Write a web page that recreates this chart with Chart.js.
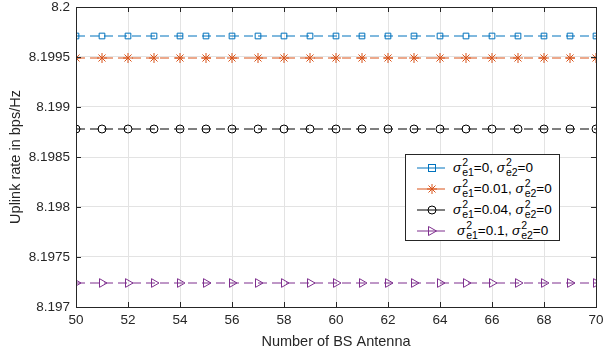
<!DOCTYPE html>
<html>
<head>
<meta charset="utf-8">
<script src="https://cdn.jsdelivr.net/npm/chart.js@4/dist/chart.umd.min.js"></script>
<style>
  html, body { margin: 0; padding: 0; background: #fff; }
  #wrap { position: relative; width: 603px; height: 352px; }
  #legend {
    position: absolute; left: 405px; top: 154px; width: 155px; height: 87px;
    border: 1px solid #262626; background: #fff; box-sizing: border-box;
    font-family: "Liberation Sans", Arial, sans-serif; font-size: 13.5px; color: #000;
    padding-top: 2px;
  }
  .row { height: 21px; display: flex; align-items: center; white-space: nowrap; }
  .row svg { margin-left: 11px; margin-right: 8px; flex: none; }
  .ss { display: inline-flex; flex-direction: column; vertical-align: middle;
        font-size: 10.5px; line-height: 10px; margin-left: 1px; position: relative; top: -1px; }
</style>
</head>
<body>
<div id="wrap">
  <canvas id="chart" width="603" height="352"></canvas>
  <div id="legend"></div>
</div>
<script>
// x axis: number of BS antennas
var antennas = [50, 51, 52, 53, 54, 55, 56, 57, 58, 59, 60, 61, 62, 63, 64, 65, 66, 67, 68, 69, 70];
// uplink rate (bps/Hz) for each channel estimation error case, flat across antennas
var rate_e0    = [8.19971, 8.19971, 8.19971, 8.19971, 8.19971, 8.19971, 8.19971, 8.19971, 8.19971, 8.19971, 8.19971, 8.19971, 8.19971, 8.19971, 8.19971, 8.19971, 8.19971, 8.19971, 8.19971, 8.19971, 8.19971];
var rate_e001  = [8.19949, 8.19949, 8.19949, 8.19949, 8.19949, 8.19949, 8.19949, 8.19949, 8.19949, 8.19949, 8.19949, 8.19949, 8.19949, 8.19949, 8.19949, 8.19949, 8.19949, 8.19949, 8.19949, 8.19949, 8.19949];
var rate_e004  = [8.19878, 8.19878, 8.19878, 8.19878, 8.19878, 8.19878, 8.19878, 8.19878, 8.19878, 8.19878, 8.19878, 8.19878, 8.19878, 8.19878, 8.19878, 8.19878, 8.19878, 8.19878, 8.19878, 8.19878, 8.19878];
var rate_e01   = [8.19724, 8.19724, 8.19724, 8.19724, 8.19724, 8.19724, 8.19724, 8.19724, 8.19724, 8.19724, 8.19724, 8.19724, 8.19724, 8.19724, 8.19724, 8.19724, 8.19724, 8.19724, 8.19724, 8.19724, 8.19724];
var xTicks = [50, 52, 54, 56, 58, 60, 62, 64, 66, 68, 70];
var yTicks = [8.197, 8.1975, 8.198, 8.1985, 8.199, 8.1995, 8.2];
var e1Labels = ['0', '0.01', '0.04', '0.1'];

var FONT = '"Liberation Sans", Arial, sans-serif';
var series = [
    { data: rate_e0,   color: '#0072BD', style: 'rect',     rot: 0,  radius: 4 },
    { data: rate_e001, color: '#D95319', style: 'star',     rot: 0,  radius: 5 },
    { data: rate_e004, color: '#000000', style: 'circle',   rot: 0,  radius: 4 },
    { data: rate_e01,  color: '#7E2F8E', style: 'triangle', rot: 90, radius: 5 }
];

// matlab style box with inward ticks
var boxPlugin = {
    id: 'box',
    afterDraw(chart) {
        var ctx = chart.ctx, a = chart.chartArea;
        var xs = chart.scales.x, ys = chart.scales.y;
        ctx.save();
        ctx.strokeStyle = '#262626';
        ctx.lineWidth = 1;
        ctx.strokeRect(Math.round(a.left) + 0.5, Math.round(a.top) + 0.5,
                       Math.round(a.right - a.left), Math.round(a.bottom - a.top));
        ctx.beginPath();
        xTicks.forEach(function (v) {
            var px = Math.round(xs.getPixelForValue(v)) + 0.5;
            ctx.moveTo(px, a.bottom); ctx.lineTo(px, a.bottom - 5);
            ctx.moveTo(px, a.top); ctx.lineTo(px, a.top + 5);
        });
        yTicks.forEach(function (v) {
            var py = Math.round(ys.getPixelForValue(v)) + 0.5;
            ctx.moveTo(a.left, py); ctx.lineTo(a.left + 5, py);
            ctx.moveTo(a.right, py); ctx.lineTo(a.right - 5, py);
        });
        ctx.stroke();
        ctx.restore();
    }
};

new Chart(document.getElementById('chart'), {
    type: 'line',
    data: {
        labels: antennas,
        datasets: series.map(function (s, i) {
            return {
                label: 'e1=' + e1Labels[i],
                data: s.data,
                borderColor: s.color,
                backgroundColor: 'rgba(0,0,0,0)',
                borderWidth: 1,
                borderDash: [9, 5],
                pointStyle: s.style,
                pointRotation: s.rot,
                pointRadius: s.radius,
                pointBorderColor: s.color,
                pointBackgroundColor: 'rgba(0,0,0,0)',
                pointBorderWidth: 1,
                fill: false,
                tension: 0
            };
        })
    },
    options: {
        responsive: false,
        animation: false,
        layout: { padding: { top: 7, right: 7, left: 0, bottom: 1 } },
        plugins: { legend: { display: false }, tooltip: { enabled: false } },
        scales: {
            x: {
                type: 'linear', min: 50, max: 70,
                afterBuildTicks: function (sc) { sc.ticks = xTicks.map(function (v) { return { value: v }; }); },
                grid: { color: '#e3e3e3', drawTicks: false },
                border: { display: false },
                ticks: { color: '#262626', font: { family: FONT, size: 13.5 }, padding: 5, maxRotation: 0 },
                title: { display: true, text: 'Number of BS Antenna', color: '#262626',
                         font: { family: FONT, size: 14.5 }, padding: { top: 0, bottom: 0 } },
                afterFit: function (sc) { sc.height = 44; sc.paddingRight = 0; sc.paddingLeft = 0; }
            },
            y: {
                min: 8.197, max: 8.2,
                afterBuildTicks: function (sc) { sc.ticks = yTicks.map(function (v) { return { value: v }; }); },
                grid: { color: '#e3e3e3', drawTicks: false },
                border: { display: false },
                ticks: {
                    color: '#262626', font: { family: FONT, size: 13.5 }, padding: 6,
                    callback: function (v) { return String(parseFloat(Number(v).toFixed(4))); }
                },
                title: { display: true, text: 'Uplink rate in bps/Hz', color: '#262626',
                         font: { family: FONT, size: 14.5 }, padding: { top: 7, bottom: 0 } },
                afterFit: function (sc) { sc.width = 76; sc.paddingTop = 0; sc.paddingBottom = 0; }
            }
        }
    },
    plugins: [boxPlugin]
});

// legend with stacked sigma super/subscripts
var legend = document.getElementById('legend');
series.forEach(function (s, i) {
    var row = document.createElement('div');
    row.className = 'row';
    var m;
    if (s.style === 'rect') m = '<rect x="11.5" y="6.5" width="7" height="7" fill="none" stroke="' + s.color + '"/>';
    else if (s.style === 'star') m = '<path d="M15 5v10M10 10h10M11.5 6.5l7 7M18.5 6.5l-7 7" stroke="' + s.color + '"/>';
    else if (s.style === 'circle') m = '<circle cx="15" cy="10" r="4" fill="none" stroke="' + s.color + '"/>';
    else m = '<path d="M11.5 5.5L19.5 10L11.5 14.5Z" fill="none" stroke="' + s.color + '"/>';
    var sym = function (sub) {
        return '<i>σ</i><span class="ss"><span>2</span><span>' + sub + '</span></span>';
    };
    row.innerHTML = '<svg width="28" height="20"><line x1="0" y1="10" x2="28" y2="10" stroke="' + s.color + '"/>' + m + '</svg>' +
        '<span' + (i === 3 ? ' style="margin-left:4px"' : '') + '>' + sym('e1') + '=' + e1Labels[i] + ', ' + sym('e2') + '=0</span>';
    legend.appendChild(row);
});
</script>
</body>
</html>
